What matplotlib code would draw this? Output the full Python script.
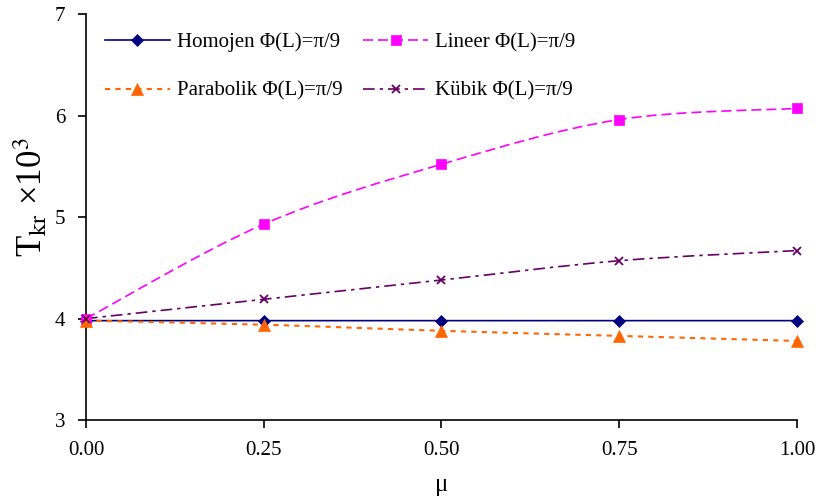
import matplotlib
matplotlib.use("Agg")
import matplotlib.pyplot as plt
from matplotlib.path import Path
from matplotlib.patches import PathPatch
from matplotlib.lines import Line2D
import numpy as np

plt.rcParams['font.family'] = ['Liberation Serif', 'DejaVu Serif']
plt.rcParams['mathtext.fontset'] = 'stix'

mu = [0.00, 0.25, 0.50, 0.75, 1.00]
homojen = [3.98, 3.98, 3.98, 3.98, 3.98]
lineer = [4.00, 4.93, 5.52, 5.96, 6.07]
parabolik = [3.98, 3.94, 3.88, 3.83, 3.78]
kubik = [4.00, 4.19, 4.38, 4.57, 4.67]

labels = ['Homojen Φ(L)=π/9', 'Lineer Φ(L)=π/9',
          'Parabolik Φ(L)=π/9', 'Kübik Φ(L)=π/9']


def smooth_path(x, y):
    # Excel-like smoothing: Bezier through the points (Catmull-Rom, tension 1/6)
    x = np.asarray(x, float)
    y = np.asarray(y, float)
    verts = [(x[0], y[0])]
    codes = [Path.MOVETO]
    n = len(x)
    for i in range(n - 1):
        p0 = (x[max(i - 1, 0)], y[max(i - 1, 0)])
        p1 = (x[i], y[i])
        p2 = (x[i + 1], y[i + 1])
        p3 = (x[min(i + 2, n - 1)], y[min(i + 2, n - 1)])
        c1 = (p1[0] + (p2[0] - p0[0]) / 6, p1[1] + (p2[1] - p0[1]) / 6)
        c2 = (p2[0] - (p3[0] - p1[0]) / 6, p2[1] - (p3[1] - p1[1]) / 6)
        verts += [c1, c2, p2]
        codes += [Path.CURVE4] * 3
    return Path(verts, codes)


fig = plt.figure(figsize=(8.19, 4.99), dpi=100)
ax = fig.add_axes([0.105, 0.158, 0.868, 0.814])

series = [
    (homojen, '#000080', '-', 'D', 6, 1.2),
    (lineer, '#FF00FF', (0, (6, 3)), 's', 6.5, 1.2),
    (parabolik, '#FF6600', (0, (2.5, 2.5)), '^', 8, 1.5),
    (kubik, '#660066', (0, (7, 3, 2, 3)), 'x', 6, 1.2),
]

handles = []
for vals, col, ls, mk, ms, lw in series:
    patch = PathPatch(smooth_path(mu, vals), facecolor='none', edgecolor=col,
                      linestyle=ls, linewidth=lw, clip_on=False, zorder=2)
    ax.add_patch(patch)
    ax.plot(mu, vals, linestyle='none', marker=mk, markersize=ms, color=col,
            markeredgewidth=1.3 if mk == 'x' else 0.5, clip_on=False, zorder=3)
    handles.append(Line2D([], [], color=col, linestyle=ls, linewidth=lw,
                          marker=mk, markersize=ms,
                          markeredgewidth=1.3 if mk == 'x' else 0.5))

ax.set_xlim(0, 1)
ax.set_ylim(3, 7)
ax.set_xticks(mu)
ax.set_xticklabels(['%.2f' % v for v in mu])
ax.set_yticks([3, 4, 5, 6, 7])
ax.spines['top'].set_visible(False)
ax.spines['right'].set_visible(False)
for s in ['left', 'bottom']:
    ax.spines[s].set_linewidth(1.2)
ax.tick_params(axis='both', labelsize=15, direction='out', length=6,
               width=1.2, pad=9)
ax.set_xlabel('μ', fontsize=18, labelpad=10)
ax.set_ylabel(r'T$_{\mathrm{kr}}$ ×10$^{3}$', fontsize=25)
ax.yaxis.set_label_coords(-0.05, 0.55)

# row-wise order: Homojen, Lineer / Parabolik, Kübik
order = [0, 2, 1, 3]
ax.legend([handles[i] for i in order], [labels[i] for i in order],
          loc='upper left', bbox_to_anchor=(0.015, 0.975), borderaxespad=0,
          ncol=2, frameon=False, fontsize=15, handlelength=3.1,
          columnspacing=1.0, labelspacing=1.4, handletextpad=0.35)

fig.savefig('out.png', dpi=100)
